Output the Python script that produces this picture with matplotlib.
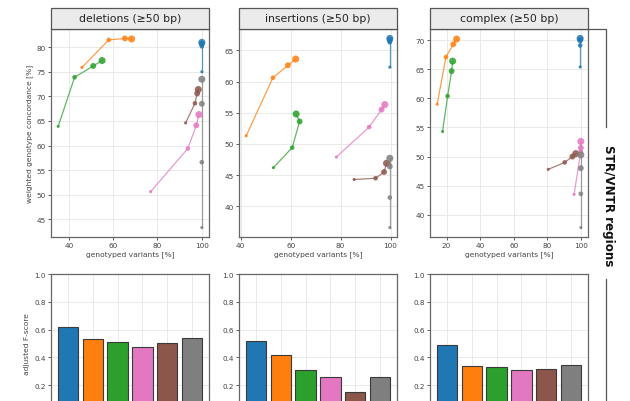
import matplotlib
matplotlib.use("Agg")
import matplotlib.pyplot as plt
from matplotlib.patches import Rectangle
from matplotlib.lines import Line2D

# ---------------- data ----------------
tools = ["A", "B", "C", "D", "E", "F"]
colors = ["#1f77b4", "#ff7f0e", "#2ca02c", "#e377c2", "#8c564b", "#7f7f7f"]
marker_sizes = [5, 11, 18, 26]

panel_titles = ["deletions (≥50 bp)", "insertions (≥50 bp)", "complex (≥50 bp)"]

# genotyped variants [%] (x) and weighted genotype concordance [%] (y), small -> large marker
deletions_x = {
    "A": [100, 100, 100, 100],
    "B": [45.9, 58.0, 65.3, 68.3],
    "C": [35.2, 42.6, 51.0, 55.0],
    "D": [76.9, 93.7, 97.5, 98.7],
    "E": [92.7, 96.9, 97.9, 98.4],
    "F": [100, 100, 100, 100],
}
deletions_y = {
    "A": [75.0, 80.2, 80.7, 81.0],
    "B": [75.9, 81.5, 81.8, 81.7],
    "C": [63.9, 73.9, 76.2, 77.3],
    "D": [50.6, 59.4, 64.1, 66.3],
    "E": [64.6, 68.6, 70.6, 71.4],
    "F": [43.3, 56.6, 68.5, 73.5],
}
insertions_x = {
    "A": [99.7, 99.7, 99.7, 99.7],
    "B": [42.2, 52.9, 58.9, 62.0],
    "C": [53.1, 60.6, 63.6, 62.2],
    "D": [78.3, 91.4, 96.4, 97.7],
    "E": [85.4, 94.0, 97.4, 98.4],
    "F": [99.7, 99.7, 99.7, 99.7],
}
insertions_y = {
    "A": [62.3, 66.3, 66.6, 66.9],
    "B": [51.3, 60.6, 62.6, 63.6],
    "C": [46.2, 49.4, 53.6, 54.8],
    "D": [47.9, 52.7, 55.5, 56.3],
    "E": [44.3, 44.5, 45.5, 46.9],
    "F": [36.6, 41.4, 46.4, 47.7],
}
complex_x = {
    "A": [99.6, 99.6, 99.6, 99.6],
    "B": [14.4, 19.6, 24.0, 26.0],
    "C": [17.6, 20.6, 23.0, 23.6],
    "D": [96.0, 100, 100, 100],
    "E": [80.6, 90.4, 95.0, 97.0],
    "F": [100, 100, 100, 100],
}
complex_y = {
    "A": [65.4, 69.1, 70.0, 70.3],
    "B": [59.0, 67.1, 69.3, 70.2],
    "C": [54.3, 60.4, 64.7, 66.4],
    "D": [43.5, 50.9, 51.5, 52.6],
    "E": [47.8, 49.0, 50.0, 50.5],
    "F": [37.8, 43.6, 48.0, 50.3],
}

# adjusted F-score
fscore_deletions = [0.62, 0.532, 0.513, 0.477, 0.505, 0.541]
fscore_insertions = [0.515, 0.417, 0.307, 0.258, 0.148, 0.258]
fscore_complex = [0.492, 0.335, 0.330, 0.311, 0.318, 0.342]

xticks_top = [[40, 60, 80, 100], [40, 60, 80, 100], [20, 40, 60, 80, 100]]
yticks_top = [[45, 50, 55, 60, 65, 70, 75, 80],
              [40, 45, 50, 55, 60, 65],
              [40, 45, 50, 55, 60, 65, 70]]
yticks_bottom = [0.2, 0.4, 0.6, 0.8, 1.0]

# ---------------- figure ----------------
W, H = 630, 402
fig = plt.figure(figsize=(W / 100, H / 100), dpi=100)

def fx(px):
    return px / W

def fy(py):
    return 1 - py / H

lefts = [51, 239, 430]
width = 158
top_top, top_bot = 30, 238
bot_top, bot_bot = 275, 414

spine_col = "#666666"
tick_col = "#444444"
grid_col = "#e6e6e6"
fs_tick = 5.2

def style(ax):
    for s in ax.spines.values():
        s.set_color(spine_col)
        s.set_linewidth(0.9)
    ax.tick_params(labelsize=fs_tick, colors=tick_col, length=2, width=0.6, pad=1.5)
    ax.grid(True, color=grid_col, linewidth=0.6)
    ax.set_axisbelow(True)

top_data = [(deletions_x, deletions_y), (insertions_x, insertions_y), (complex_x, complex_y)]
bars = [fscore_deletions, fscore_insertions, fscore_complex]

for i in range(3):
    ax = fig.add_axes([fx(lefts[i]), fy(top_bot), width / W, (top_bot - top_top) / H])
    style(ax)
    dx, dy = top_data[i]
    for t, c in zip(tools, colors):
        ax.plot(dx[t], dy[t], color=c, linewidth=0.9, alpha=0.75, zorder=2)
        ax.scatter(dx[t], dy[t], s=marker_sizes, color=c, alpha=0.85,
                   edgecolors="none", zorder=3)
    ax.set_xticks(xticks_top[i])
    ax.set_yticks(yticks_top[i])
    ax.margins(0.05)
    ax.set_xlabel("genotyped variants [%]", fontsize=5.4, color=tick_col, labelpad=2)
    if i == 0:
        ax.set_ylabel("weighted genotype concordance [%]", fontsize=5.4,
                      color=tick_col, labelpad=3)
    # strip title
    rect = Rectangle((fx(lefts[i]), fy(top_top)), width / W, 21 / H,
                     transform=fig.transFigure, facecolor="#ebebeb",
                     edgecolor="#555555", linewidth=0.9, clip_on=False)
    fig.patches.append(rect)
    fig.text(fx(lefts[i] + width / 2), fy(19.5), panel_titles[i], fontsize=7.8,
             ha="center", va="center", color="#222222")

    axb = fig.add_axes([fx(lefts[i]), fy(bot_bot), width / W, (bot_bot - bot_top) / H])
    style(axb)
    axb.bar(range(len(tools)), bars[i], width=0.82, color=colors,
            edgecolor="#3a3a3a", linewidth=0.8, zorder=3)
    axb.set_xticks(range(len(tools)))
    axb.set_xticklabels([])
    axb.set_ylim(0, 1.0)
    axb.set_yticks(yticks_bottom)
    axb.set_xlim(-0.69, 5.69)
    if i == 0:
        axb.set_ylabel("adjusted F-score", fontsize=5.4, color=tick_col, labelpad=3)

# right bracket with row label
lc = "#555555"
fig.add_artist(Line2D([fx(588), fx(606), fx(606)], [fy(29.5), fy(29.5), fy(128)],
                      transform=fig.transFigure, color=lc, linewidth=0.9))
fig.add_artist(Line2D([fx(606), fx(606)], [fy(280), fy(410)],
                      transform=fig.transFigure, color=lc, linewidth=0.9))
fig.text(fx(608), fy(206), "STR/VNTR regions", rotation=-90, fontsize=8.6,
         fontweight="bold", ha="center", va="center", color="#111111")

fig.savefig("out.png", dpi=100)
